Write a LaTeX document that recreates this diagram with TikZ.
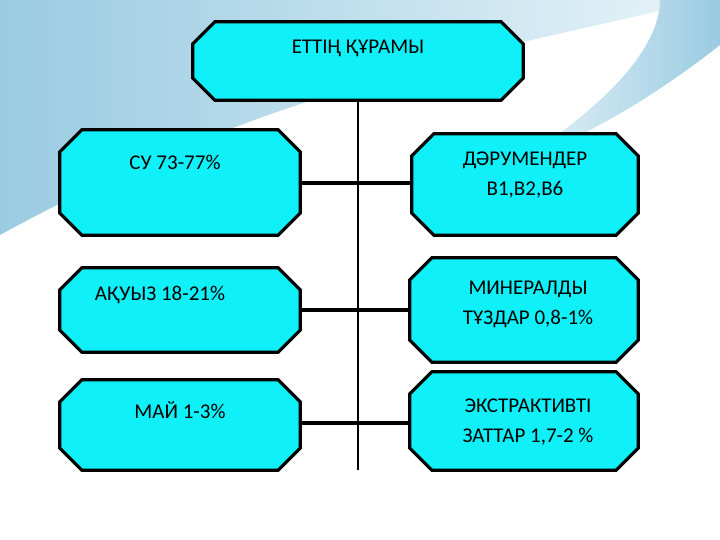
\documentclass[tikz,border=0pt]{standalone}
\usepackage{fontspec}
\setmainfont{Carlito}
\definecolor{boxc}{HTML}{10F0F8}
\definecolor{wave1}{HTML}{9ACBE2}
\definecolor{wave2}{HTML}{E6F3F8}
\tikzset{x=1pt,y=-1pt,
 boxs/.style={rectangle,draw=none,inner sep=0pt},
 octs/.style={draw=black,line width=3.2pt,fill=boxc,line join=miter},
 lbl/.style={font=\fontsize{21}{30}\selectfont,align=center,text=black},
 thick conn/.style={line width=4pt},
 thin conn/.style={line width=1.2pt}}
\newcommand{\obox}[5]{\node[boxs,minimum width=#3-#1,minimum height=#4-#2] (#5) at ({(#1+#3)/2},{(#2+#4)/2}) {};
\draw[octs] ($(#5.north west)+(22,0)$) -- ($(#5.north east)+(-22,0)$) -- ($(#5.north east)+(0,22)$) -- ($(#5.south east)+(0,-22)$) -- ($(#5.south east)+(-22,0)$) -- ($(#5.south west)+(22,0)$) -- ($(#5.south west)+(0,-22)$) -- ($(#5.north west)+(0,22)$) -- cycle;}
\usetikzlibrary{calc}
\begin{document}
\begin{tikzpicture}
\useasboundingbox (0,0) rectangle (720,540);
\fill[white] (0,0) rectangle (720,540);
\shade[left color=wave1,right color=wave2] (0,0) -- (700,0) .. controls (560,40) and (300,70) .. (0,235) -- cycle;
\shade[left color=wave2,right color=wave1] (660,0) -- (720,0) -- (720,45) .. controls (650,100) and (580,140) .. (520,160) .. controls (600,110) and (660,50) .. (660,0) -- cycle;
\coordinate (vb) at (358,470);
\coordinate (vt) at (358,100);
\draw[thin conn] (vt) -- (vb);
\obox{193}{22}{523}{100}{top}
\obox{60}{130}{300}{235}{l1}
\obox{412}{134}{638}{235}{r1}
\obox{60}{268}{300}{352}{l2}
\obox{410}{258}{638}{362}{r2}
\obox{60}{380}{300}{470}{l3}
\obox{410}{372}{638}{470}{r3}
\draw[thick conn] (l1.east|-0,183) -- (r1.west|-0,183);
\draw[thick conn] (l2.east|-0,310) -- (r2.west|-0,310);
\draw[thick conn] (l3.east|-0,423) -- (r3.west|-0,423);
\draw[thin conn] (358,180) -- (358,186);
\draw[thin conn] (358,307) -- (358,313);
\draw[thin conn] (358,420) -- (358,426);
\node[lbl] (tt) at (358,48) {ЕТТІҢ ҚҰРАМЫ};
\node[lbl] (t1) at (175,162) {СУ 73-77\%};
\node[lbl] (t2) at (525,175) {ДӘРУМЕНДЕР\\В1,В2,В6};
\node[lbl] (t3) at (160,295) {АҚУЫЗ 18-21\%};
\node[lbl] (t4) at (528,304) {МИНЕРАЛДЫ\\ТҰЗДАР 0,8-1\%};
\node[lbl] (t5) at (180,410) {МАЙ 1-3\%};
\node[lbl] (t6) at (528,422) {ЭКСТРАКТИВТІ\\ЗАТТАР 1,7-2 \%};
\end{tikzpicture}
\end{document}
